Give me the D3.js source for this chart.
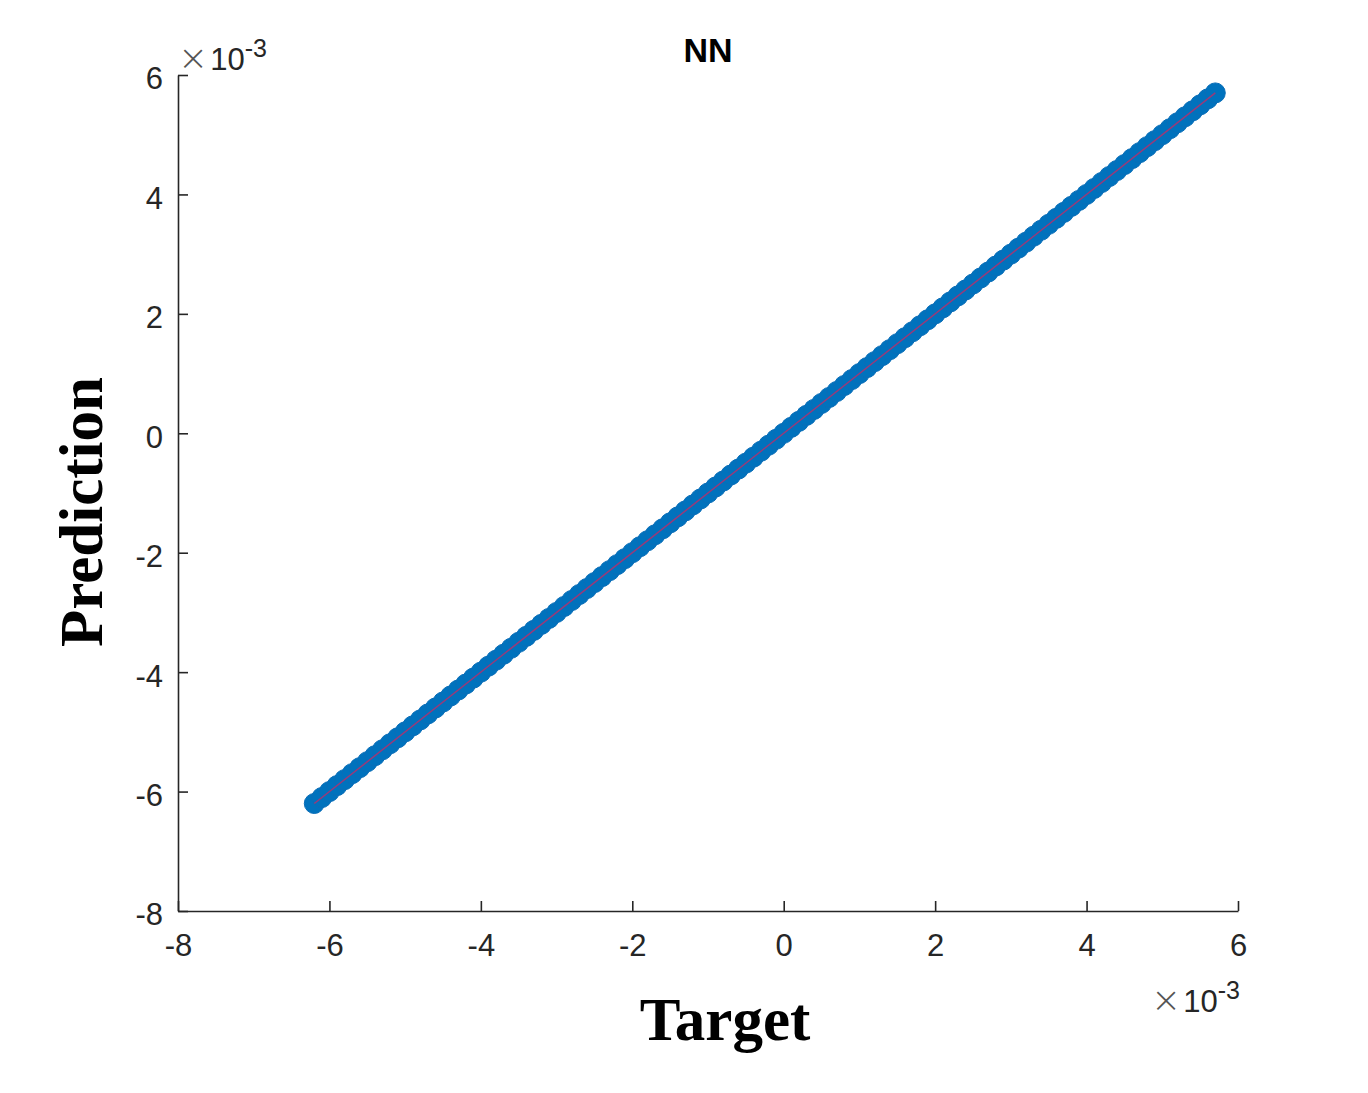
<!DOCTYPE html>
<html><head><meta charset="utf-8">
<script src="https://cdn.jsdelivr.net/npm/d3@7"></script>
<style>body{margin:0;background:#fff}</style>
</head><body>
<svg id="c" width="1368" height="1093"></svg>
<script>
const title = "NN";
const xLabel = "Target";
const yLabel = "Prediction";
const xTicks = [-8,-6,-4,-2,0,2,4,6];
const yTicks = [-8,-6,-4,-2,0,2,4,6];
const target = [-6.2,-6.1,-6.0,-5.9,-5.8,-5.7,-5.6,-5.5,-5.4,-5.3,-5.2,-5.1,-5.0,-4.9,-4.8,-4.7,-4.6,-4.5,-4.4,-4.3,-4.2,-4.1,-4.0,-3.9,-3.8,-3.7,-3.6,-3.5,-3.4,-3.3,-3.2,-3.1,-3.0,-2.9,-2.8,-2.7,-2.6,-2.5,-2.4,-2.3,-2.2,-2.1,-2.0,-1.9,-1.8,-1.7,-1.6,-1.5,-1.4,-1.3,-1.2,-1.1,-1.0,-0.9,-0.8,-0.7,-0.6,-0.5,-0.4,-0.3,-0.2,-0.1,0.0,0.1,0.2,0.3,0.4,0.5,0.6,0.7,0.8,0.9,1.0,1.1,1.2,1.3,1.4,1.5,1.6,1.7,1.8,1.9,2.0,2.1,2.2,2.3,2.4,2.5,2.6,2.7,2.8,2.9,3.0,3.1,3.2,3.3,3.4,3.5,3.6,3.7,3.8,3.9,4.0,4.1,4.2,4.3,4.4,4.5,4.6,4.7,4.8,4.9,5.0,5.1,5.2,5.3,5.4,5.5,5.6,5.7];
const prediction = [-6.2,-6.1,-6.0,-5.9,-5.8,-5.7,-5.6,-5.5,-5.4,-5.3,-5.2,-5.1,-5.0,-4.9,-4.8,-4.7,-4.6,-4.5,-4.4,-4.3,-4.2,-4.1,-4.0,-3.9,-3.8,-3.7,-3.6,-3.5,-3.4,-3.3,-3.2,-3.1,-3.0,-2.9,-2.8,-2.7,-2.6,-2.5,-2.4,-2.3,-2.2,-2.1,-2.0,-1.9,-1.8,-1.7,-1.6,-1.5,-1.4,-1.3,-1.2,-1.1,-1.0,-0.9,-0.8,-0.7,-0.6,-0.5,-0.4,-0.3,-0.2,-0.1,0.0,0.1,0.2,0.3,0.4,0.5,0.6,0.7,0.8,0.9,1.0,1.1,1.2,1.3,1.4,1.5,1.6,1.7,1.8,1.9,2.0,2.1,2.2,2.3,2.4,2.5,2.6,2.7,2.8,2.9,3.0,3.1,3.2,3.3,3.4,3.5,3.6,3.7,3.8,3.9,4.0,4.1,4.2,4.3,4.4,4.5,4.6,4.7,4.8,4.9,5.0,5.1,5.2,5.3,5.4,5.5,5.6,5.7];
const fitLine = [[-6.2,-6.2],[5.7,5.7]];

const svg = d3.select("#c");
const L = 178, R = 1238, T = 75, B = 911;
const x = d3.scaleLinear().domain([-8,6]).range([L,R]);
const y = d3.scaleLinear().domain([-8,6]).range([B,T]);
const axisColor = "#262626";
const tickFont = "'Liberation Sans', Arial, sans-serif";
const fmt = d => String(d);

// points
const pts = target.map((t,i)=>[t,prediction[i]]);
svg.append("g").selectAll("circle").data(pts).join("circle")
  .attr("cx", d=>x(d[0])).attr("cy", d=>y(d[1])).attr("r", 10)
  .attr("fill", "#0072BD").attr("stroke", "#0a6eb8").attr("stroke-width", 1);

// fit line
svg.append("path").datum(fitLine)
  .attr("d", d3.line().x(d=>x(d[0])).y(d=>y(d[1])))
  .attr("stroke", "#9a3a78").attr("stroke-width", 1.5).attr("fill","none");

// axes
const xAxis = d3.axisBottom(x).tickValues(xTicks).tickFormat(fmt).tickSizeInner(-10).tickSizeOuter(0).tickPadding(23);
const yAxis = d3.axisLeft(y).tickValues(yTicks).tickFormat(fmt).tickSizeInner(-10).tickSizeOuter(0).tickPadding(15);
const gx = svg.append("g").attr("transform", `translate(0,${B})`).call(xAxis);
const gy = svg.append("g").attr("transform", `translate(${L},0)`).call(yAxis);
[gx,gy].forEach(g=>{
  g.select(".domain").attr("stroke", axisColor).attr("stroke-width", 1.6);
  g.selectAll(".tick line").attr("stroke", axisColor).attr("stroke-width", 1.6);
  g.selectAll(".tick text").attr("fill", axisColor).attr("font-family", tickFont).attr("font-size", 31);
});
gx.selectAll(".tick text").attr("dy", "0.71em");
gy.selectAll(".tick text").attr("dy", "0.45em");

// exponent labels
function expLabel(xp, yp, anchor){
  const t = svg.append("text").attr("x", xp).attr("y", yp).attr("text-anchor", anchor)
    .attr("font-family", tickFont).attr("font-size", 31).attr("fill", axisColor);
  t.append("tspan").attr("font-family", "'DejaVu Sans', sans-serif").attr("font-size", 36).attr("font-weight", 200).attr("fill", "#555").text("\u00D7");
  t.append("tspan").attr("dx", 2).text("10");
  t.append("tspan").attr("dy", -13).attr("font-size", 25).text("-3");
}
expLabel(178, 70, "start");
expLabel(1240, 1012, "end");

// title
svg.append("text").attr("x", 708).attr("y", 62).attr("text-anchor","middle")
  .attr("font-family", tickFont).attr("font-weight","bold").attr("font-size", 34)
  .attr("fill","#000").text(title);

// axis labels
svg.append("text").attr("x", 725).attr("y", 1040).attr("text-anchor","middle")
  .attr("font-family","'Liberation Serif','Times New Roman',serif").attr("font-weight","bold")
  .attr("font-size", 61).attr("fill","#000").text(xLabel);
svg.append("text").attr("transform","translate(102,512) rotate(-90)").attr("text-anchor","middle")
  .attr("font-family","'Liberation Serif','Times New Roman',serif").attr("font-weight","bold")
  .attr("font-size", 61).attr("fill","#000").text(yLabel);
</script>
</body></html>
